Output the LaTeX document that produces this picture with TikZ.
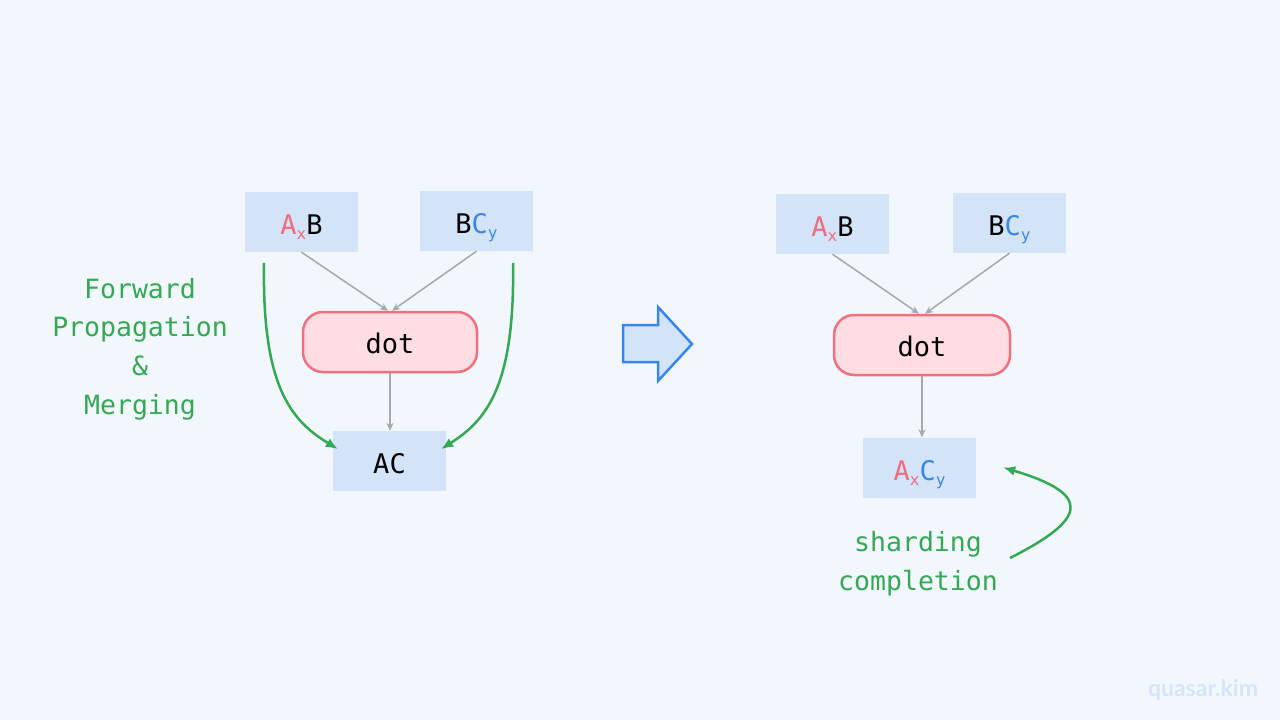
\documentclass[tikz,border=0pt]{standalone}
\usepackage{fontspec}
\setmonofont{DejaVu Sans Mono}
\newfontfamily\wmfont{Lato}
\usetikzlibrary{arrows.meta}
\definecolor{bgc}{HTML}{F2F7FE}
\definecolor{boxc}{HTML}{D3E3F8}
\definecolor{pinkc}{HTML}{F26B7F}
\definecolor{dotfill}{HTML}{FFDDE2}
\definecolor{dotdraw}{HTML}{F07080}
\definecolor{bluec}{HTML}{3A86E8}
\definecolor{arrowfill}{HTML}{D4E4F8}
\definecolor{greenc}{HTML}{34A853}
\definecolor{grayc}{HTML}{A8A8A8}
\definecolor{wmc}{HTML}{D6E5FA}
\newcommand\sbx[1]{\raisebox{-5pt}{\fontsize{16}{16}\selectfont #1}}
\tikzset{
  tensorbox/.style={fill=boxc, draw=none, minimum width=113pt, minimum height=60pt, inner sep=0pt,
    font=\ttfamily\fontsize{27}{27}\selectfont, text height=25pt, text depth=0pt},
  opbox/.style={fill=dotfill, draw=dotdraw, line width=2.5pt, rounded corners=20pt,
    minimum width=174pt, minimum height=60pt, inner sep=0pt,
    font=\ttfamily\fontsize{27}{27}\selectfont, text height=23pt, text depth=0pt},
  flow/.style={draw=grayc, line width=1.5pt, -{Stealth[length=8pt,width=7pt]}},
  greenarrow/.style={draw=greenc, line width=2.5pt, -{Latex[length=12pt,width=10pt]}},
  greenlabel/.style={text=greenc, align=center, font=\ttfamily\fontsize{26.5}{38.8}\selectfont, inner sep=0pt},
}
\begin{document}
\begin{tikzpicture}[x=1pt,y=-1pt]
\fill[bgc] (0,0) rectangle (1280,720);
\useasboundingbox (0,0) rectangle (1280,720);

% left diagram
\node[tensorbox] (lab) at (301.5,222) {\textcolor{pinkc}{A\sbx{x}}B};
\node[tensorbox] (lbc) at (476.5,221) {B\textcolor{bluec}{C\sbx{y}}};
\node[opbox] (ldot) at (390,342) {dot};
\node[tensorbox] (lac) at (389.5,461) {AC};

\draw[flow] (lab.south) -- ([xshift=-2pt]ldot.north);
\draw[flow] (lbc.south) -- ([xshift=2pt]ldot.north);
\draw[flow] (ldot.south) -- (ldot.south |- lac.north);

\coordinate (gls) at (264,263);
\coordinate (grs) at (513,263);
\draw[greenarrow] (gls) .. controls (262,385) and (290,420) .. ([xshift=5pt,yshift=12pt]lac.west);
\draw[greenarrow] (grs) .. controls (515,385) and (487,420) .. ([xshift=-5pt,yshift=12pt]lac.east);

\node[greenlabel] (fpm) at (140,349) {Forward\\Propagation\\\&\\Merging};

% middle arrow
\draw[fill=arrowfill, draw=bluec, line width=2.5pt, line join=miter]
  (623,325) -- (658,325) -- (658,307) -- (692,344) -- (658,381) -- (658,362) -- (623,362) -- cycle;

% right diagram
\node[tensorbox] (rab) at (832.5,224) {\textcolor{pinkc}{A\sbx{x}}B};
\node[tensorbox] (rbc) at (1009.5,223) {B\textcolor{bluec}{C\sbx{y}}};
\node[opbox, minimum width=176pt] (rdot) at (922,345) {dot};
\node[tensorbox] (rac) at (919.5,467.5) {\textcolor{pinkc}{A\sbx{x}}\textcolor{bluec}{C\sbx{y}}};

\draw[flow] (rab.south) -- ([xshift=-3pt]rdot.north);
\draw[flow] (rbc.south) -- ([xshift=3pt]rdot.north);
\draw[flow] (rdot.south) -- (rdot.south |- rac.north);

\node[greenlabel] (sc) at (918,564) {sharding\\completion};
\coordinate (gsc) at (1010,558);
\draw[greenarrow] (gsc) .. controls (1085,520) and (1095,495) .. ([xshift=27pt]rac.east);

% watermark
\node[text=wmc, font=\wmfont\bfseries\fontsize{23}{23}\selectfont, inner sep=0pt] (wm) at (1203,690) {quasar.kim};
\end{tikzpicture}
\end{document}
